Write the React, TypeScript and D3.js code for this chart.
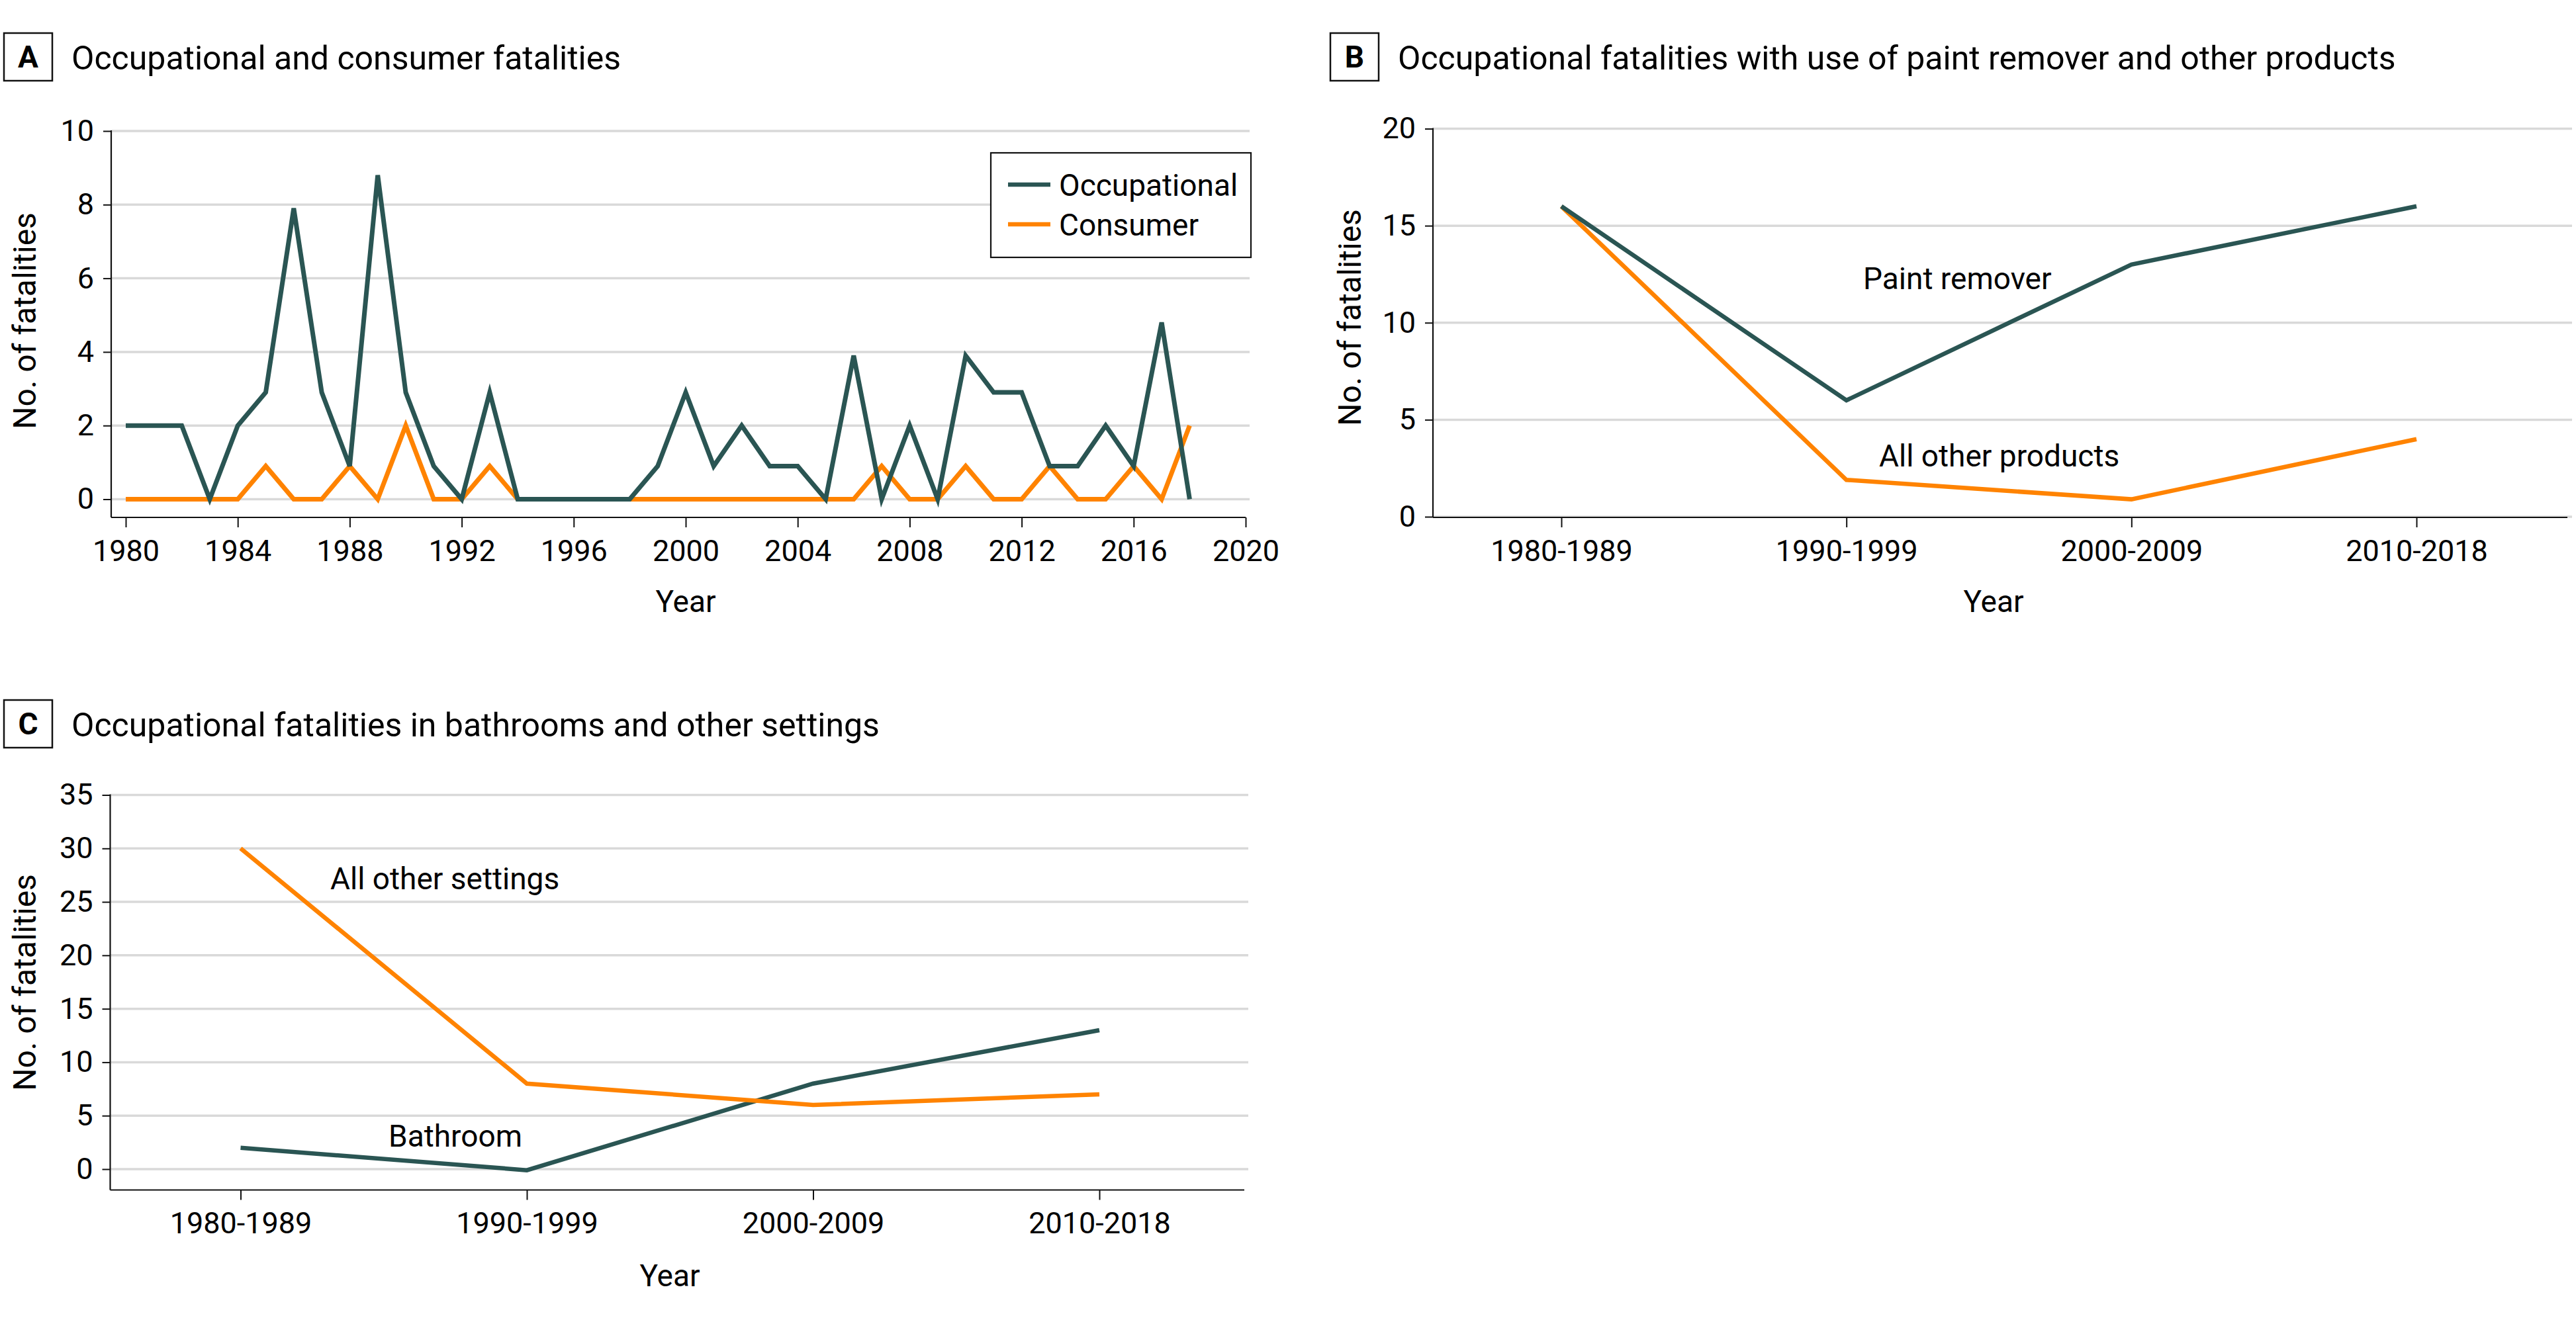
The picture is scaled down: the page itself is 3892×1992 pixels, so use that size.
import React, { useEffect, useRef } from "react";
import * as d3 from "d3";

// Panel A: yearly fatalities
const years = [
  1980, 1981, 1982, 1983, 1984, 1985, 1986, 1987, 1988, 1989,
  1990, 1991, 1992, 1993, 1994, 1995, 1996, 1997, 1998, 1999,
  2000, 2001, 2002, 2003, 2004, 2005, 2006, 2007, 2008, 2009,
  2010, 2011, 2012, 2013, 2014, 2015, 2016, 2017, 2018,
];
const occupational = [
  2, 2, 2, 0, 2, 2.9, 7.9, 2.9, 0.9, 8.8,
  2.9, 0.9, 0, 2.9, 0, 0, 0, 0, 0, 0.9,
  2.9, 0.9, 2, 0.9, 0.9, 0, 3.9, 0, 2, 0,
  3.9, 2.9, 2.9, 0.9, 0.9, 2, 0.9, 4.8, 0,
];
const consumer = [
  0, 0, 0, 0, 0, 0.9, 0, 0, 0.9, 0,
  2, 0, 0, 0.9, 0, 0, 0, 0, 0, 0,
  0, 0, 0, 0, 0, 0, 0, 0.9, 0, 0,
  0.9, 0, 0, 0.9, 0, 0, 0.9, 0, 2,
];
const yearTicks = [1980, 1984, 1988, 1992, 1996, 2000, 2004, 2008, 2012, 2016, 2020];
const ticksA = [0, 2, 4, 6, 8, 10];

// Panel B: by decade, product
const decades = ["1980-1989", "1990-1999", "2000-2009", "2010-2018"];
const paintRemover = [16, 6, 13, 16];
const otherProducts = [16, 1.9, 0.9, 4];
const ticksB = [0, 5, 10, 15, 20];

// Panel C: by decade, setting
const bathroom = [2, -0.1, 8, 13];
const otherSettings = [30, 8, 6, 7];
const ticksC = [0, 5, 10, 15, 20, 25, 30, 35];

const TEAL = "#2a5553";
const ORANGE = "#ff8300";
const GRID = "#d9d9d9";
const FONT = "Roboto, 'Noto Sans', sans-serif";

function drawPanel(svg, p) {
  const g = svg.append("g");

  // gridlines
  g.append("g")
    .selectAll("line")
    .data(p.yTicks)
    .join("line")
    .attr("x1", p.left)
    .attr("x2", p.gridRight)
    .attr("y1", (d) => p.y(d))
    .attr("y2", (d) => p.y(d))
    .attr("stroke", GRID)
    .attr("stroke-width", 3.5);

  // y axis
  const yAx = g
    .append("g")
    .attr("transform", `translate(${p.left},0)`)
    .call(d3.axisLeft(p.y).tickValues(p.yTicks).tickSize(12).tickPadding(14));
  yAx.select(".domain").remove();

  // x axis
  const xAxis = d3.axisBottom(p.x).tickSize(15).tickPadding(19);
  if (p.xTicks) xAxis.tickValues(p.xTicks).tickFormat(d3.format("d"));
  const xAx = g
    .append("g")
    .attr("transform", `translate(0,${p.axisY})`)
    .call(xAxis);
  xAx.select(".domain").remove();

  [yAx, xAx].forEach((ax) => {
    ax.selectAll("line").attr("stroke", "#111").attr("stroke-width", 2);
    ax.selectAll("text")
      .attr("fill", "#000")
      .style("font-family", FONT)
      .style("font-size", "45px");
  });

  // axis lines
  g.append("line")
    .attr("x1", p.left).attr("x2", p.left)
    .attr("y1", p.y(p.yTicks[p.yTicks.length - 1]) - 1).attr("y2", p.axisY)
    .attr("stroke", "#111").attr("stroke-width", 2.2);
  g.append("line")
    .attr("x1", p.left).attr("x2", p.right)
    .attr("y1", p.axisY).attr("y2", p.axisY)
    .attr("stroke", "#111").attr("stroke-width", 2.2);

  // series
  p.series.forEach((s) => {
    const line = d3
      .line()
      .x((d, i) => p.x(p.cats[i]))
      .y((d) => p.y(d));
    g.append("path")
      .attr("d", line(s.values))
      .attr("fill", "none")
      .attr("stroke", s.color)
      .attr("stroke-width", p.lineWidth);
  });

  // panel letter box + title
  g.append("rect")
    .attr("x", p.box[0]).attr("y", p.box[1])
    .attr("width", 73).attr("height", 72)
    .attr("fill", "none").attr("stroke", "#111").attr("stroke-width", 2.5);
  g.append("text")
    .attr("x", p.box[0] + 36.5).attr("y", p.box[1] + 52)
    .attr("text-anchor", "middle")
    .style("font-family", FONT).style("font-weight", "bold").style("font-size", "46px")
    .text(p.letter);
  g.append("text")
    .attr("x", p.box[0] + 102).attr("y", p.box[1] + 55)
    .style("font-family", FONT).style("font-size", "50px")
    .text(p.title);

  // axis titles
  g.append("text")
    .attr("transform", `translate(${p.yLabel[0]},${p.yLabel[1]}) rotate(-90)`)
    .attr("text-anchor", "middle")
    .style("font-family", FONT).style("font-size", "48px")
    .text("No. of fatalities");
  g.append("text")
    .attr("x", p.xLabel[0]).attr("y", p.xLabel[1])
    .attr("text-anchor", "middle")
    .style("font-family", FONT).style("font-size", "46px")
    .text("Year");

  (p.notes || []).forEach((n) => {
    g.append("text")
      .attr("x", n.x).attr("y", n.y)
      .style("font-family", FONT).style("font-size", "46px")
      .text(n.text);
  });
  return g;
}

export default function App() {
  const svgRef = useRef(null);

  useEffect(() => {
    const svg = d3.select(svgRef.current);
    svg.selectAll("*").remove();

    // A
    const gA = drawPanel(svg, {
      letter: "A",
      title: "Occupational and consumer fatalities",
      box: [6, 50],
      x: d3.scaleLinear().domain([1980, 2020]).range([190, 1882]),
      xTicks: yearTicks,
      cats: years,
      y: d3.scaleLinear().domain([0, 10]).range([754.5, 198]),
      yTicks: ticksA,
      left: 168, right: 1882, gridRight: 1888, axisY: 782,
      yLabel: [54, 485], xLabel: [1036, 925],
      lineWidth: 7,
      series: [
        { values: consumer, color: ORANGE },
        { values: occupational, color: TEAL },
      ],
    });

    // legend
    const legend = gA.append("g");
    legend.append("rect")
      .attr("x", 1497).attr("y", 231).attr("width", 393).attr("height", 158)
      .attr("fill", "#fff").attr("stroke", "#111").attr("stroke-width", 2.2);
    [
      { name: "Occupational", color: TEAL },
      { name: "Consumer", color: ORANGE },
    ].forEach((item, i) => {
      const yy = 279 + i * 60;
      legend.append("line")
        .attr("x1", 1523).attr("x2", 1587).attr("y1", yy).attr("y2", yy)
        .attr("stroke", item.color).attr("stroke-width", 6.5);
      legend.append("text")
        .attr("x", 1600).attr("y", yy + 17)
        .style("font-family", FONT).style("font-size", "46px")
        .text(item.name);
    });

    // B
    drawPanel(svg, {
      letter: "B",
      title: "Occupational fatalities with use of paint remover and other products",
      box: [2010, 50],
      x: d3.scalePoint().domain(decades).range([2359, 3651]),
      cats: decades,
      y: d3.scaleLinear().domain([0, 20]).range([781, 194.5]),
      yTicks: ticksB,
      left: 2165, right: 3879, gridRight: 3886, axisY: 782,
      yLabel: [2056, 480], xLabel: [3012, 925],
      lineWidth: 6.5,
      series: [
        { values: otherProducts, color: ORANGE },
        { values: paintRemover, color: TEAL },
      ],
      notes: [
        { text: "Paint remover", x: 2815, y: 437 },
        { text: "All other products", x: 2839, y: 705 },
      ],
    });

    // C
    drawPanel(svg, {
      letter: "C",
      title: "Occupational fatalities in bathrooms and other settings",
      box: [6, 1058],
      x: d3.scalePoint().domain(decades).range([363.5, 1661]),
      cats: decades,
      y: d3.scaleLinear().domain([0, 35]).range([1767, 1201.5]),
      yTicks: ticksC,
      left: 166.5, right: 1880, gridRight: 1886, axisY: 1798.5,
      yLabel: [54, 1485], xLabel: [1012, 1944],
      lineWidth: 6.5,
      series: [
        { values: bathroom, color: TEAL },
        { values: otherSettings, color: ORANGE },
      ],
      notes: [
        { text: "All other settings", x: 499, y: 1344 },
        { text: "Bathroom", x: 587, y: 1733 },
      ],
    });
  }, []);

  return (
    <svg
      ref={svgRef}
      width={3892}
      height={1992}
      style={{ position: "absolute", left: 0, top: 0, background: "#fff" }}
    />
  );
}
